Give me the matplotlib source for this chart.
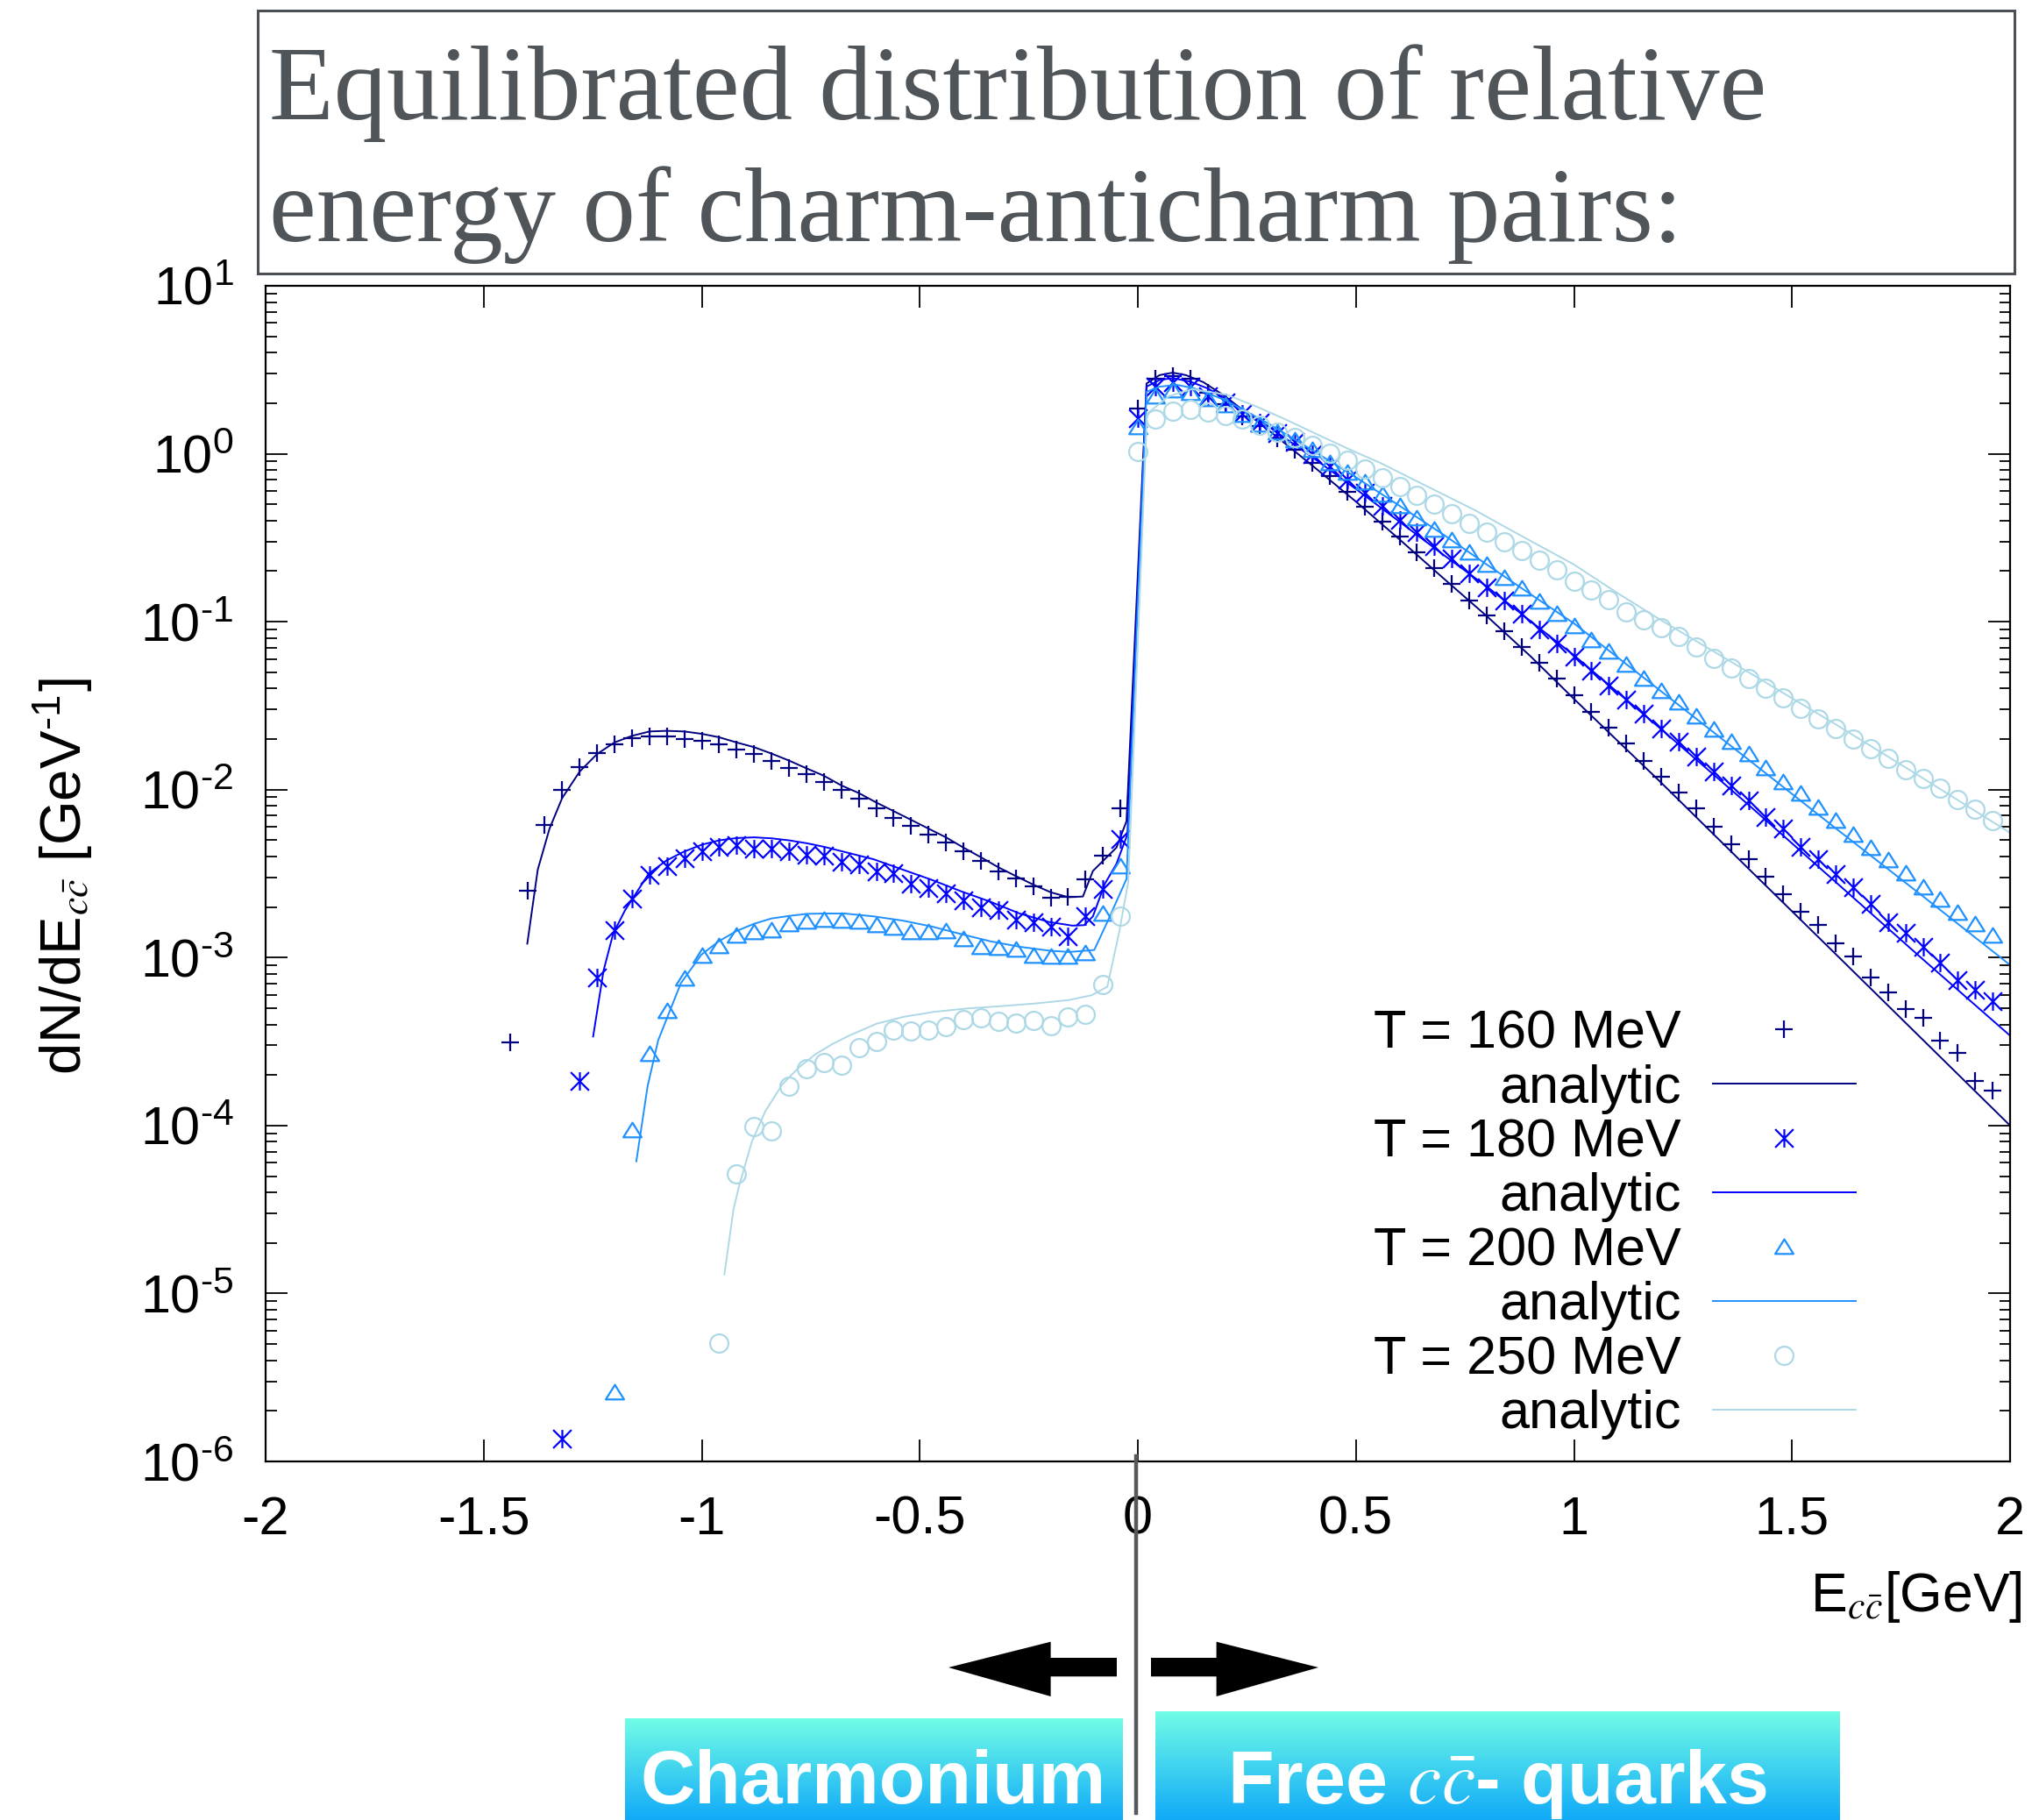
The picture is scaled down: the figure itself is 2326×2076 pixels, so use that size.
import numpy as np
import matplotlib
matplotlib.use("Agg")
import matplotlib.pyplot as plt
from matplotlib.lines import Line2D
from matplotlib.path import Path
from matplotlib.patches import Polygon, Rectangle
from matplotlib.colors import LinearSegmentedColormap

plt.rcParams["font.family"] = ["Liberation Sans", "DejaVu Sans"]
plt.rcParams["mathtext.fontset"] = "stix"

W, H = 2326, 2076
HY = "\u2010"  # gnuplot prints a short hyphen in the exponents

# MC histograms, 0.04 GeV bins; "bound" = E < 0, "free" = E >= 0
e_free = np.linspace(0.0, 1.96, 50)

n160_bound = [3.11e-4, 2.49e-3, 6.15e-3, 1.00e-2, 1.36e-2, 1.66e-2, 1.86e-2, 2.03e-2, 2.07e-2, 2.07e-2,
              2.00e-2, 1.95e-2, 1.86e-2, 1.74e-2, 1.63e-2, 1.49e-2, 1.34e-2, 1.23e-2, 1.11e-2, 9.95e-3,
              8.81e-3, 7.76e-3, 6.79e-3, 6.10e-3, 5.41e-3, 4.83e-3, 4.29e-3, 3.78e-3, 3.24e-3, 2.96e-3,
              2.65e-3, 2.26e-3, 2.29e-3, 2.94e-3, 4.04e-3, 7.76e-3]
n160_free = [1.86, 2.79, 2.91, 2.79, 2.30, 1.98, 1.67, 1.47, 1.24, 1.06,
             0.877, 0.738, 0.590, 0.481, 0.396, 0.320, 0.258, 0.208, 0.168, 0.134,
             0.109, 0.0879, 0.0708, 0.0569, 0.0457, 0.0364, 0.0292, 0.0234, 0.0188, 0.0148,
             0.0119, 9.62e-3, 7.74e-3, 6.04e-3, 4.75e-3, 3.86e-3, 3.04e-3, 2.39e-3, 1.88e-3, 1.57e-3,
             1.22e-3, 1.02e-3, 7.57e-4, 6.24e-4, 4.91e-4, 4.36e-4, 3.19e-4, 2.70e-4, 1.84e-4, 1.61e-4]

n180_bound = [1.36e-6, 1.84e-4, 7.60e-4, 1.45e-3, 2.24e-3, 3.09e-3, 3.51e-3, 3.88e-3, 4.29e-3, 4.55e-3,
              4.65e-3, 4.48e-3, 4.43e-3, 4.29e-3, 4.08e-3, 4.05e-3, 3.74e-3, 3.60e-3, 3.24e-3, 3.18e-3,
              2.76e-3, 2.58e-3, 2.41e-3, 2.20e-3, 2.00e-3, 1.91e-3, 1.69e-3, 1.63e-3, 1.53e-3, 1.34e-3,
              1.76e-3, 2.55e-3, 5.09e-3]
n180_free = [1.63, 2.51, 2.67, 2.51, 2.20, 2.02, 1.73, 1.53, 1.33, 1.18,
             0.995, 0.839, 0.706, 0.583, 0.491, 0.405, 0.340, 0.281, 0.237, 0.195,
             0.161, 0.134, 0.111, 0.0904, 0.0746, 0.0617, 0.0511, 0.0419, 0.0343, 0.0283,
             0.0231, 0.0193, 0.0157, 0.0128, 0.0106, 8.61e-3, 6.87e-3, 5.86e-3, 4.57e-3, 3.86e-3,
             3.14e-3, 2.63e-3, 2.10e-3, 1.63e-3, 1.41e-3, 1.16e-3, 9.29e-4, 7.31e-4, 6.40e-4, 5.48e-4]

n200_bound = [2.57e-6, 9.42e-5, 2.69e-4, 4.82e-4, 7.53e-4, 1.03e-3, 1.17e-3, 1.35e-3, 1.42e-3, 1.45e-3,
              1.58e-3, 1.64e-3, 1.68e-3, 1.67e-3, 1.64e-3, 1.56e-3, 1.51e-3, 1.42e-3, 1.42e-3, 1.44e-3,
              1.29e-3, 1.16e-3, 1.14e-3, 1.12e-3, 1.03e-3, 1.02e-3, 1.02e-3, 1.06e-3, 1.82e-3, 3.51e-3]
n200_free = [1.44, 2.20, 2.40, 2.30, 2.11, 1.94, 1.71, 1.50, 1.35, 1.21,
             1.06, 0.877, 0.771, 0.678, 0.570, 0.491, 0.413, 0.356, 0.306, 0.258,
             0.220, 0.183, 0.158, 0.132, 0.111, 0.0938, 0.0774, 0.0665, 0.0553, 0.0457,
             0.0386, 0.0330, 0.0272, 0.0228, 0.0193, 0.0163, 0.0135, 0.0111, 9.48e-3, 7.82e-3,
             6.55e-3, 5.41e-3, 4.53e-3, 3.81e-3, 3.19e-3, 2.63e-3, 2.22e-3, 1.85e-3, 1.59e-3, 1.35e-3]

n250_bound = [5.08e-6, 5.14e-5, 9.82e-5, 9.29e-5, 1.72e-4, 2.19e-4, 2.36e-4, 2.30e-4, 2.92e-4, 3.18e-4,
              3.72e-4, 3.65e-4, 3.68e-4, 3.89e-4, 4.27e-4, 4.39e-4, 4.19e-4, 4.09e-4, 4.23e-4, 3.94e-4,
              4.43e-4, 4.60e-4, 6.92e-4, 1.76e-3]
n250_free = [1.03, 1.61, 1.79, 1.84, 1.77, 1.69, 1.60, 1.48, 1.34, 1.25,
             1.12, 1.01, 0.910, 0.807, 0.719, 0.635, 0.566, 0.501, 0.441, 0.386,
             0.341, 0.300, 0.264, 0.233, 0.204, 0.175, 0.155, 0.135, 0.114, 0.103,
             0.0916, 0.0813, 0.0703, 0.0604, 0.0527, 0.0457, 0.0400, 0.0351, 0.0304, 0.0263,
             0.0231, 0.0200, 0.0175, 0.0153, 0.0132, 0.0116, 0.0102, 8.73e-3, 7.67e-3, 6.55e-3]

# first bound bin of each temperature
e_start = {160: -1.44, 180: -1.32, 200: -1.20, 250: -0.96}

# analytic curves
a160_x = [-1.40, -1.376, -1.349, -1.32, -1.28, -1.24, -1.20, -1.16, -1.12, -1.08, -1.04, -1.00, -0.96,
          -0.92, -0.88, -0.84, -0.80, -0.76, -0.72, -0.68, -0.64, -0.60, -0.56, -0.52, -0.48, -0.44,
          -0.40, -0.36, -0.32, -0.28, -0.24, -0.20, -0.16, -0.126, -0.103, -0.049, -0.026,
          0.02, 0.05, 0.08, 0.11, 0.15, 0.20, 0.30, 0.40, 0.50, 0.60, 0.70, 0.80, 0.90, 1.00,
          1.20, 1.40, 1.60, 1.80, 2.00]
a160_y = [1.21e-3, 3.34e-3, 5.86e-3, 8.91e-3, 1.28e-2, 1.63e-2, 1.91e-2, 2.09e-2, 2.22e-2, 2.24e-2,
          2.22e-2, 2.15e-2, 2.05e-2, 1.91e-2, 1.79e-2, 1.64e-2, 1.49e-2, 1.34e-2, 1.21e-2, 1.06e-2,
          9.55e-3, 8.39e-3, 7.45e-3, 6.61e-3, 5.86e-3, 5.20e-3, 4.52e-3, 3.96e-3, 3.45e-3, 3.06e-3,
          2.72e-3, 2.45e-3, 2.29e-3, 2.31e-3, 3.28e-3, 4.52e-3, 6.49e-3,
          2.62, 2.94, 3.04, 2.94, 2.67, 2.20, 1.38, 0.851, 0.519, 0.309, 0.182, 0.108, 0.0624, 0.0347,
          0.0110, 3.39e-3, 1.05e-3, 3.24e-4, 1.00e-4]

a180_x = [-1.249, -1.225, -1.203, -1.176, -1.122, -1.082, -1.042, -1.00, -0.96, -0.92, -0.88, -0.84,
          -0.80, -0.76, -0.72, -0.673, -0.606, -0.539, -0.472, -0.405, -0.338, -0.271, -0.204, -0.150,
          -0.123, -0.103, -0.076, -0.049, -0.024,
          0.02, 0.05, 0.08, 0.12, 0.16, 0.20, 0.30, 0.40, 0.50, 0.60, 0.70, 0.80, 0.90, 1.00,
          1.20, 1.40, 1.60, 1.80, 2.00]
a180_y = [3.39e-4, 8.39e-4, 1.39e-3, 1.91e-3, 3.15e-3, 3.77e-3, 4.26e-3, 4.70e-3, 4.99e-3, 5.15e-3,
          5.20e-3, 5.13e-3, 4.99e-3, 4.80e-3, 4.57e-3, 4.26e-3, 3.85e-3, 3.34e-3, 2.90e-3, 2.48e-3,
          2.15e-3, 1.83e-3, 1.63e-3, 1.55e-3, 1.56e-3, 1.76e-3, 2.74e-3, 3.62e-3, 5.41e-3,
          2.51, 2.75, 2.82, 2.69, 2.45, 2.14, 1.45, 0.955, 0.617, 0.394, 0.251, 0.162, 0.101, 0.0631,
          0.0229, 8.13e-3, 2.82e-3, 9.77e-4, 3.43e-4]

a200_x = [-1.150, -1.124, -1.100, -1.048, -1.001, -0.961, -0.920, -0.880, -0.840, -0.800, -0.760,
          -0.720, -0.673, -0.606, -0.539, -0.472, -0.405, -0.338, -0.271, -0.204, -0.157, -0.100,
          -0.070, -0.026,
          0.02, 0.05, 0.09, 0.13, 0.20, 0.30, 0.40, 0.50, 0.60, 0.70, 0.80, 0.90, 1.00,
          1.20, 1.40, 1.60, 1.80, 2.00]
a200_y = [6.12e-5, 1.72e-4, 3.21e-4, 7.03e-4, 1.04e-3, 1.25e-3, 1.44e-3, 1.59e-3, 1.71e-3, 1.77e-3,
          1.82e-3, 1.83e-3, 1.83e-3, 1.76e-3, 1.66e-3, 1.53e-3, 1.38e-3, 1.25e-3, 1.16e-3, 1.10e-3,
          1.08e-3, 1.11e-3, 1.63e-3, 2.94e-3,
          2.34, 2.51, 2.57, 2.45, 2.09, 1.51, 1.05, 0.724, 0.490, 0.331, 0.219, 0.146, 0.0977,
          0.0385, 0.0151, 5.89e-3, 2.32e-3, 9.04e-4]

a250_x = [-0.948, -0.927, -0.914, -0.885, -0.854, -0.815, -0.777, -0.738, -0.700, -0.661, -0.599,
          -0.537, -0.468, -0.391, -0.313, -0.236, -0.159, -0.105, -0.070, -0.043, -0.022,
          0.021, 0.071, 0.125, 0.205, 0.272, 0.339, 0.415, 0.486, 0.558, 0.630, 0.702, 0.774,
          0.845, 0.917, 1.00, 1.10, 1.20, 1.40, 1.60, 1.80, 2.00]
a250_y = [1.30e-5, 3.18e-5, 4.40e-5, 8.02e-5, 1.22e-4, 1.76e-4, 2.22e-4, 2.67e-4, 3.06e-4, 3.44e-4,
          4.04e-4, 4.44e-4, 4.75e-4, 4.98e-4, 5.14e-4, 5.33e-4, 5.58e-4, 5.98e-4, 6.71e-4, 1.41e-3,
          2.82e-3,
          1.73, 2.20, 2.43, 2.24, 1.91, 1.60, 1.29, 1.06, 0.877, 0.706, 0.570, 0.460, 0.363, 0.287,
          0.219, 0.148, 0.102, 0.0501, 0.0245, 0.0117, 5.53e-3]

temps = [160, 180, 200, 250]
colors = {160: "#000080", 180: "#0000ff", 200: "#1e90ff", 250: "#add8e6"}

x_ticks = [-2, -1.5, -1, -0.5, 0, 0.5, 1, 1.5, 2]
x_ticklabels = ["-2", "-1.5", "-1", "-0.5", "0", "0.5", "1", "1.5", "2"]
y_exponents = [-6, -5, -4, -3, -2, -1, 0, 1]

# gnuplot-like point types
ASTERISK = Path([(0, -1), (0, 1), (-1, -1), (1, 1), (-1, 1), (1, -1)],
                [Path.MOVETO, Path.LINETO, Path.MOVETO, Path.LINETO, Path.MOVETO, Path.LINETO])
TRIANGLE = Path([(-1, -0.75), (1, -0.75), (0, 0.85), (-1, -0.75)],
                [Path.MOVETO, Path.LINETO, Path.LINETO, Path.CLOSEPOLY])
markers = {160: "+", 180: ASTERISK, 200: TRIANGLE, 250: "o"}


def fx(px):
    return px / W


def fy(py):
    return 1 - py / H


def exp_label(k):
    s = str(k).replace("-", HY)
    return r"$\mathregular{10^{%s}}$" % s


def main():
    fig = plt.figure(figsize=(W / 100, H / 100), dpi=100)
    ax = fig.add_axes([fx(303), fy(1667), fx(2293) - fx(303), fy(326) - fy(1667)])

    mc = {160: (n160_bound, n160_free), 180: (n180_bound, n180_free),
          200: (n200_bound, n200_free), 250: (n250_bound, n250_free)}
    ana = {160: (a160_x, a160_y), 180: (a180_x, a180_y),
           200: (a200_x, a200_y), 250: (a250_x, a250_y)}

    handles, labels = [], []
    for t in temps:
        bound, free = mc[t]
        e_bound = np.linspace(e_start[t], -0.04, len(bound))
        x = np.concatenate([e_bound, e_free])
        y = np.concatenate([bound, free])
        c = colors[t]
        pts, = ax.plot(x, y, ls="none", marker=markers[t], ms=15, mew=1.6,
                       mfc="none", mec=c, color=c, clip_on=False)
        ln, = ax.plot(ana[t][0], ana[t][1], color=c, lw=1.4)
        handles += [pts, ln]
        labels += [f"T = {t} MeV", "analytic"]

    ax.set_yscale("log")
    ax.set_xlim(-2, 2)
    ax.set_ylim(1e-6, 10)
    ax.set_xticks(x_ticks, labels=x_ticklabels)
    ax.set_yticks([10.0 ** k for k in y_exponents], labels=[exp_label(k) for k in y_exponents])
    ax.yaxis.set_minor_formatter(matplotlib.ticker.NullFormatter())
    ax.tick_params(which="both", direction="in", top=True, right=True, width=1.3, labelsize=44)
    ax.tick_params(which="major", length=18)
    ax.tick_params(which="minor", length=9)
    ax.tick_params(axis="y", pad=26)
    ax.tick_params(axis="x", pad=28)
    for s in ax.spines.values():
        s.set_linewidth(1.6)

    ax.legend(handles, labels, loc="lower right", bbox_to_anchor=(fx(2117), fy(1642)),
              bbox_transform=fig.transFigure, frameon=False, markerfirst=False,
              fontsize=44, handlelength=2.67, handletextpad=0.59, labelspacing=0.08,
              borderpad=0, borderaxespad=0, numpoints=1)

    fig.text(fx(72), fy(1000), r"dN/dE$_{c\bar{c}}$ [GeV$^{\mathregular{%s1}}$]" % HY,
             rotation=90, ha="center", va="center", fontsize=47)
    fig.text(fx(2307), fy(1838), r"E$_{c\bar{c}}$[GeV]", ha="right", va="baseline", fontsize=45)

    # title box
    fig.patches.append(Rectangle((fx(294), fy(312)), fx(2298) - fx(294), fy(12) - fy(312),
                                 transform=fig.transFigure, fill=False, ec="#4a4f55", lw=2.2))
    for txt, base in [("Equilibrated distribution of relative", 136),
                      ("energy of charm-anticharm pairs:", 275)]:
        fig.text(fx(307), fy(base), txt, family=["Liberation Serif", "DejaVu Serif"],
                 fontsize=87, color="#50555a", ha="left", va="baseline")

    # divider and arrows below the axis
    fig.add_artist(Line2D([fx(1296), fx(1296)], [fy(1661), fy(2068)], transform=fig.transFigure,
                          color="#55595e", lw=3.2, zorder=5))
    left_arrow = [(1082, 1902), (1198.6, 1872.7), (1198.6, 1891), (1274, 1891),
                  (1274, 1912.3), (1198.6, 1912.3), (1198.6, 1935)]
    right_arrow = [(1504, 1902), (1387.6, 1872.7), (1387.6, 1891), (1313, 1891),
                   (1313, 1912.3), (1387.6, 1912.3), (1387.6, 1935)]
    for poly in (left_arrow, right_arrow):
        fig.patches.append(Polygon([(fx(a), fy(b)) for a, b in poly], closed=True,
                                   transform=fig.transFigure, fc="black", ec="none"))

    cmap = LinearSegmentedColormap.from_list("box", ["#10aaf8", "#72fde6"])
    grad = np.linspace(0, 1, 256)[:, None]
    for (l, r, top), label in [((712.6, 1280.6, 1960), "Charmonium"),
                               ((1317.8, 2098, 1951.7), r"Free $c\bar{c}$- quarks")]:
        bax = fig.add_axes([fx(l), 0, fx(r) - fx(l), fy(top)])
        bax.imshow(grad, aspect="auto", cmap=cmap, origin="lower", extent=[0, 1, 0, 1])
        bax.set_axis_off()
        fig.text(fx((l + r) / 2), fy(2057), label, ha="center", va="baseline",
                 color="white", fontsize=62, fontweight="bold", zorder=6)

    fig.savefig("out.png", dpi=100)
    plt.close(fig)


if __name__ == "__main__":
    main()
